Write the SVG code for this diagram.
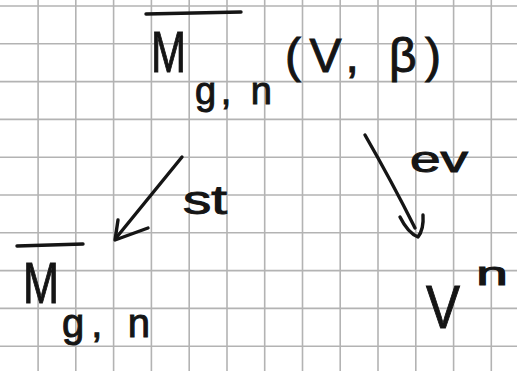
<svg xmlns="http://www.w3.org/2000/svg" width="517" height="371" viewBox="0 0 517 371">
<style>
.grid line{stroke:#b3b3b3;stroke-width:1.6}
.ink{fill:#151515;stroke:#151515;stroke-width:1;font-family:"Liberation Sans","DejaVu Sans",sans-serif}
.pen{fill:none;stroke:#151515;stroke-width:3.4;stroke-linecap:round;stroke-linejoin:round}
</style>
<rect width="517" height="371" fill="#ffffff"/>
<g class="grid">
<line x1="38.1" y1="0" x2="38.1" y2="371"/>
<line x1="75.8" y1="0" x2="75.8" y2="371"/>
<line x1="113.6" y1="0" x2="113.6" y2="371"/>
<line x1="151.4" y1="0" x2="151.4" y2="371"/>
<line x1="189.2" y1="0" x2="189.2" y2="371"/>
<line x1="227" y1="0" x2="227" y2="371"/>
<line x1="264.7" y1="0" x2="264.7" y2="371"/>
<line x1="302.5" y1="0" x2="302.5" y2="371"/>
<line x1="340.2" y1="0" x2="340.2" y2="371"/>
<line x1="378" y1="0" x2="378" y2="371"/>
<line x1="415.8" y1="0" x2="415.8" y2="371"/>
<line x1="453.6" y1="0" x2="453.6" y2="371"/>
<line x1="491.3" y1="0" x2="491.3" y2="371"/>
<line x1="0" y1="6" x2="517" y2="6"/>
<line x1="0" y1="43.8" x2="517" y2="43.8"/>
<line x1="0" y1="81.6" x2="517" y2="81.6"/>
<line x1="0" y1="119.4" x2="517" y2="119.4"/>
<line x1="0" y1="157.2" x2="517" y2="157.2"/>
<line x1="0" y1="195" x2="517" y2="195"/>
<line x1="0" y1="232.8" x2="517" y2="232.8"/>
<line x1="0" y1="270.6" x2="517" y2="270.6"/>
<line x1="0" y1="308.4" x2="517" y2="308.4"/>
<line x1="0" y1="346.2" x2="517" y2="346.2"/>
</g>
<g id="node-moduli-V-beta">
<path class="pen" d="M146,14 L241,12"/>
<text class="ink" x="151" y="72" font-size="58" textLength="35" lengthAdjust="spacingAndGlyphs">M</text>
<text class="ink" x="195" y="104" font-size="38" textLength="77" lengthAdjust="spacing">g, n</text>
<text class="ink" x="285" y="72" font-size="48" textLength="156" lengthAdjust="spacing">(V, β)</text>
</g>
<g id="node-moduli">
<path class="pen" d="M17,246 L83,244"/>
<text class="ink" x="23" y="303" font-size="58" textLength="36" lengthAdjust="spacingAndGlyphs">M</text>
<text class="ink" x="62" y="337" font-size="40" textLength="88" lengthAdjust="spacing">g, n</text>
</g>
<g id="node-Vn">
<text class="ink" x="426" y="328" font-size="62" textLength="34" lengthAdjust="spacingAndGlyphs">V</text>
<text class="ink" x="476" y="285" font-size="34" textLength="32" lengthAdjust="spacingAndGlyphs">n</text>
</g>
<g id="connectors">
<g id="edge-st">
<path class="pen" d="M182,157 L116,238"/>
<path class="pen" d="M118,220 L115,240 L148,228"/>
<text class="ink" x="183" y="214" font-size="40" textLength="44" lengthAdjust="spacingAndGlyphs">st</text>
</g>
<g id="edge-ev">
<path class="pen" d="M365,135 Q392,182 415,228"/>
<path class="pen" d="M400,217 Q408,233 418,237 Q424,229 423,215"/>
<text class="ink" x="410" y="172" font-size="36" textLength="58" lengthAdjust="spacingAndGlyphs">ev</text>
</g>
</g>
</svg>
